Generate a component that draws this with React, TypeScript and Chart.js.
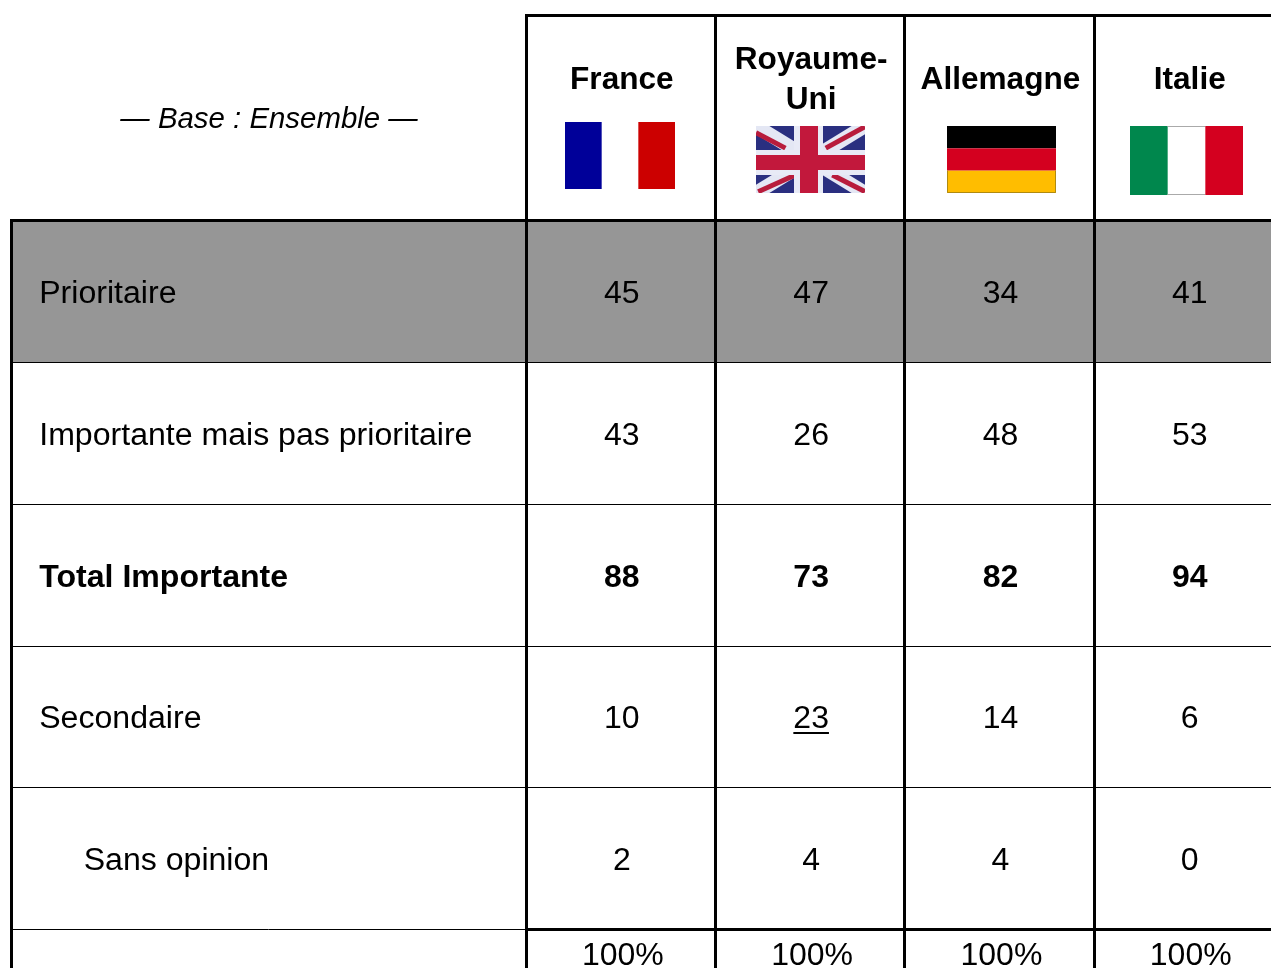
import React, { useEffect, useRef } from "react";
import { Chart, registerables } from "chart.js";

Chart.register(...registerables);

const baseLabel = "— Base : Ensemble —";
const countries = ["France", "Royaume-\nUni", "Allemagne", "Italie"];
const rowLabels = ["Prioritaire", "Importante mais pas prioritaire", "Total Importante", "Secondaire", "Sans opinion"];
const france = [45, 43, 88, 10, 2];
const royaumeUni = [47, 26, 73, 23, 4];
const allemagne = [34, 48, 82, 14, 4];
const italie = [41, 53, 94, 6, 0];
const totals = ["100%", "100%", "100%", "100%"];
const boldRow = 2;
const underlined = { col: 1, row: 3 };
const indentedRow = 4;

const FONT = '"Liberation Sans", Arial, sans-serif';
const X_MIN = -2.7797, X_MAX = 3.9345, Y_MIN = -1.5564, Y_MAX = 5.2701;
const LEFT = -2.719, HEAD_TOP = -1.4471, LAST = 5;
const LABEL_X = -2.5725, INDENT_X = -2.3377, TOTAL_Y = 5.168, BASE_X = -1.3586, BASE_Y = -0.7144;
const HEAD_Y = -1.0, HEAD_LINE = 0.141;

const flagBoxes = [
  { l: 0.205, r: 0.7861, t: -0.696, b: -0.2236 },
  { l: 1.2139, r: 1.7897, t: -0.6678, b: -0.1953 },
  { l: 2.2229, r: 2.7987, t: -0.6678, b: -0.1953 },
  { l: 3.1896, r: 3.7865, t: -0.6678, b: -0.1812 },
];

const snap = (p: number) => Math.floor(p) + 0.5;

const tablePlugin = {
  id: "table",
  beforeDatasetsDraw(chart: any) {
    const { ctx, scales } = chart;
    const X = (v: number) => scales.x.getPixelForValue(v);
    const Y = (v: number) => scales.y.getPixelForValue(v);
    ctx.save();
    ctx.fillStyle = "#ffffff";
    ctx.fillRect(0, 0, chart.width, chart.height);
    ctx.fillStyle = "#969696";
    ctx.fillRect(snap(X(LEFT)), snap(Y(0)), X(X_MAX) - X(LEFT), snap(Y(1)) - snap(Y(0)));

    flagBoxes.forEach((b, i) => {
      const l = Math.round(X(b.l)), r = Math.round(X(b.r)), t = Math.round(Y(b.t)), b2 = Math.round(Y(b.b));
      const h = b2 - t, w = r - l;
      if (i === 0) {
        ctx.fillStyle = "#000099"; ctx.fillRect(l, t, w / 3, h);
        ctx.fillStyle = "#cc0000"; ctx.fillRect(l + (2 * w) / 3, t, w / 3, h);
      } else if (i === 1) {
        ctx.save();
        ctx.beginPath(); ctx.rect(l, t, w, h); ctx.clip();
        ctx.fillStyle = "#2a2f80"; ctx.fillRect(l, t, w, h);
        const seg = (x0: number, y0: number, x1: number, y1: number, color: string, lw: number) => {
          ctx.strokeStyle = color; ctx.lineWidth = lw;
          ctx.beginPath();
          ctx.moveTo(l + x0 * w, t + y0 * h); ctx.lineTo(l + x1 * w, t + y1 * h);
          ctx.stroke();
        };
        seg(-0.05, -0.05, 1.05, 1.05, "#e4e7f4", 14);
        seg(-0.05, 1.05, 1.05, -0.05, "#e4e7f4", 14);
        seg(0, 0.1, 0.27, 0.33, "#b81c3c", 5);
        seg(1, 0.01, 0.64, 0.33, "#b81c3c", 5);
        seg(0.02, 0.98, 0.36, 0.73, "#b81c3c", 5);
        seg(0.7, 0.73, 1, 0.98, "#b81c3c", 5);
        ctx.fillStyle = "#e8eaf6";
        ctx.fillRect(l + 38, t, 29, h);
        ctx.fillRect(l, t + 24, w, 25);
        ctx.fillStyle = "#c2183c";
        ctx.fillRect(l + 44, t, 18, h);
        ctx.fillRect(l, t + 29, w, 15);
        ctx.restore();
      } else if (i === 2) {
        ctx.fillStyle = "#000000"; ctx.fillRect(l, t, w, h / 3);
        ctx.fillStyle = "#d4001f"; ctx.fillRect(l, t + h / 3, w, h / 3);
        ctx.fillStyle = "#ffbd00"; ctx.fillRect(l, t + (2 * h) / 3, w, h / 3);
        ctx.strokeStyle = "#b08a10"; ctx.lineWidth = 1;
        ctx.beginPath();
        ctx.moveTo(l + 0.5, t + (2 * h) / 3);
        ctx.lineTo(l + 0.5, t + h - 0.5);
        ctx.lineTo(r - 0.5, t + h - 0.5);
        ctx.lineTo(r - 0.5, t + (2 * h) / 3);
        ctx.stroke();
      } else {
        ctx.fillStyle = "#00874d"; ctx.fillRect(l, t, w / 3, h);
        ctx.strokeStyle = "#aaaaaa"; ctx.lineWidth = 1;
        ctx.beginPath();
        ctx.moveTo(l + w / 3, t + 0.5); ctx.lineTo(l + (2 * w) / 3, t + 0.5);
        ctx.moveTo(l + w / 3, t + h - 0.5); ctx.lineTo(l + (2 * w) / 3, t + h - 0.5);
        ctx.stroke();
        ctx.fillStyle = "#d4001f"; ctx.fillRect(l + (2 * w) / 3, t, w / 3, h);
      }
    });

    const hRule = (x0: number, x1: number, y: number, lw: number) => {
      ctx.strokeStyle = "#000000"; ctx.lineWidth = lw;
      ctx.beginPath(); ctx.moveTo(snap(X(x0)) - lw / 2, snap(Y(y))); ctx.lineTo(X(x1), snap(Y(y))); ctx.stroke();
    };
    const vRule = (x: number, y0: number, y1: number, lw: number) => {
      ctx.strokeStyle = "#000000"; ctx.lineWidth = lw;
      ctx.beginPath(); ctx.moveTo(snap(X(x)), snap(Y(y0)) - lw / 2); ctx.lineTo(snap(X(x)), Y(y1)); ctx.stroke();
    };
    for (let r = 1; r <= 4; r++) hRule(LEFT, X_MAX, r, 1);
    hRule(LEFT, 0, LAST, 1);
    hRule(0, X_MAX, LAST, 3);
    hRule(0, X_MAX, HEAD_TOP, 3);
    hRule(LEFT, X_MAX, 0, 3);
    vRule(LEFT, 0, Y_MAX, 3);
    for (let c = 0; c <= 3; c++) vRule(c, HEAD_TOP, Y_MAX, 3);
    ctx.restore();
  },
  afterDatasetsDraw(chart: any) {
    const { ctx, scales } = chart;
    const X = (v: number) => scales.x.getPixelForValue(v);
    const Y = (v: number) => scales.y.getPixelForValue(v);
    ctx.save();
    ctx.fillStyle = "#000000";
    ctx.textBaseline = "middle";

    ctx.textAlign = "center";
    ctx.font = `italic 29.4px ${FONT}`;
    ctx.fillText(baseLabel, X(BASE_X), Y(BASE_Y));
    ctx.font = `bold 31.6px ${FONT}`;
    countries.forEach((name, c) => {
      const lines = name.split("\n");
      lines.forEach((line, k) => {
        const off = (k - (lines.length - 1) / 2) * HEAD_LINE * 2;
        ctx.fillText(line, X(c + 0.5) + 1, Y(HEAD_Y + off) + 1);
      });
    });

    chart.data.datasets.forEach((ds: any, di: number) => {
      const meta = chart.getDatasetMeta(di);
      meta.data.forEach((pt: any, i: number) => {
        const raw = ds.data[i];
        const kind = ds.kind;
        const ty = Math.floor(pt.y - 0.1) + 3;
        if (kind === "rows") {
          ctx.textAlign = "left";
          ctx.font = `${raw.row === boldRow ? "bold " : ""}32.1px ${FONT}`;
          ctx.fillText(raw.text, pt.x, ty);
          return;
        }
        ctx.textAlign = "center";
        ctx.font = `${kind === "col" && i === boldRow ? "bold " : ""}32px ${FONT}`;
        const dx = kind === "totals" ? 2 : 1;
        ctx.fillText(String(raw.text), pt.x + dx, ty);
        if (kind === "col" && ds.col === underlined.col && i === underlined.row) {
          const w = ctx.measureText(String(raw.text)).width;
          ctx.fillRect(pt.x + dx - w / 2, ty + 13, w, 2);
        }
      });
    });
    ctx.restore();
  },
};

export default function App() {
  const ref = useRef<HTMLCanvasElement>(null);
  useEffect(() => {
    document.body.style.margin = "0";
    document.body.style.overflow = "hidden";
    const columns = [france, royaumeUni, allemagne, italie];
    const datasets: any[] = columns.map((vals, c) => ({
      label: countries[c],
      kind: "col",
      col: c,
      pointRadius: 0,
      data: vals.map((v, i) => ({ x: c + 0.5, y: i + 0.5, text: v })),
    }));
    datasets.push({
      label: "rows",
      kind: "rows",
      pointRadius: 0,
      data: rowLabels.map((t, i) => ({ x: i === indentedRow ? INDENT_X : LABEL_X, y: i + 0.5, text: t, row: i })),
    });
    datasets.push({
      label: "totals",
      kind: "totals",
      pointRadius: 0,
      data: totals.map((t, c) => ({ x: c + 0.5, y: TOTAL_Y, text: t })),
    });
    const chart = new Chart(ref.current!, {
      type: "scatter",
      data: { datasets },
      plugins: [tablePlugin],
      options: {
        animation: false,
        responsive: false,
        events: [],
        layout: { padding: 0 },
        plugins: { legend: { display: false }, tooltip: { enabled: false }, title: { display: false } },
        scales: {
          x: { type: "linear", display: false, min: X_MIN, max: X_MAX },
          y: { type: "linear", display: false, reverse: true, min: Y_MIN, max: Y_MAX },
        },
      },
    } as any);
    return () => chart.destroy();
  }, []);
  return <canvas ref={ref} width={1271} height={968} style={{ display: "block", width: 1271, height: 968 }} />;
}
